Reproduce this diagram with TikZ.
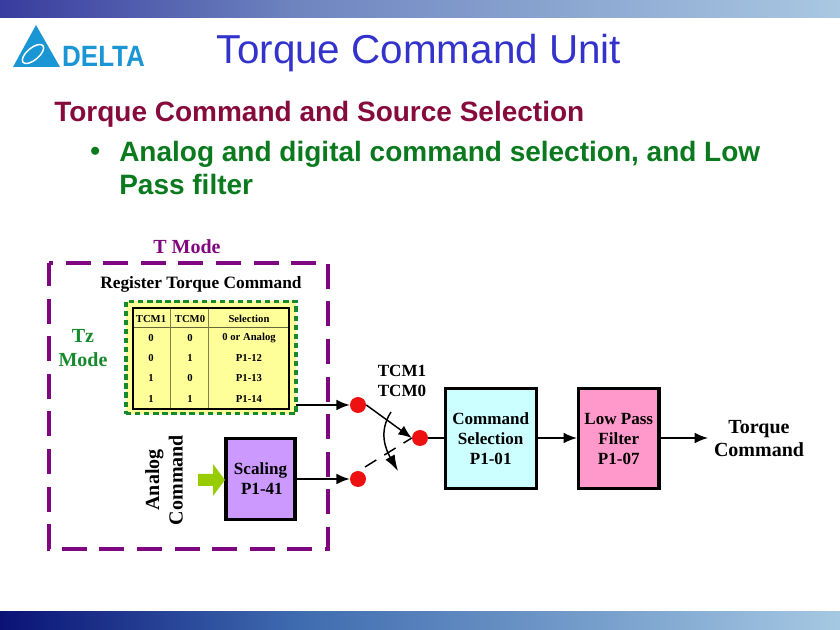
\documentclass[tikz,border=0pt]{standalone}
\usepackage{fontspec}
\setmainfont{Liberation Serif}
\newfontfamily\headfont{Liberation Sans}
\usetikzlibrary{arrows.meta}
\definecolor{barA}{HTML}{383C9E}
\definecolor{barB}{HTML}{6F85C0}
\definecolor{barC}{HTML}{A9C8E2}
\definecolor{footA}{HTML}{0A1276}
\definecolor{footB}{HTML}{3F6CB0}
\definecolor{footC}{HTML}{A5C8E2}
\definecolor{logoblue}{HTML}{1B96D4}
\definecolor{titleblue}{HTML}{3333CC}
\definecolor{headred}{HTML}{860B3C}
\definecolor{headgreen}{HTML}{0B7A1E}
\definecolor{modepurple}{HTML}{800580}
\definecolor{tzgreen}{HTML}{168A2C}
\definecolor{tabyellow}{HTML}{FFFF99}
\definecolor{scalepurple}{HTML}{CC99FF}
\definecolor{cmdcyan}{HTML}{CCFFFF}
\definecolor{lpfpink}{HTML}{FF99CC}
\definecolor{dotred}{HTML}{EE1111}
\definecolor{inarrow}{HTML}{99CC00}
\tikzset{
	headline/.style={font=\headfont\bfseries\fontsize{21}{24}\selectfont,anchor=west,inner sep=0pt},
	blockbox/.style={draw=black,line width=2.3pt,minimum width=#1,align=center,
		font=\bfseries\fontsize{12.8}{15}\selectfont,inner sep=0pt},
	difflabel/.style={font=\bfseries\fontsize{12.8}{15}\selectfont,align=center,inner sep=0pt},
	biglabel/.style={font=\bfseries\fontsize{15}{17.5}\selectfont,align=center,inner sep=0pt},
	celltext/.style={font=\bfseries\fontsize{8}{10}\selectfont,inner sep=0pt},
	sw/.style={circle,fill=dotred,minimum size=12pt,inner sep=0pt},
	flow/.style={line width=1.1pt,-{Latex[length=10pt,width=8pt]}}
}
\begin{document}
\begin{tikzpicture}[x=0.75pt,y=-0.75pt]
\useasboundingbox (0,0) rectangle (840,630);
% bars
\shade[left color=barA,right color=barB] (0,0) rectangle (300,18);
\shade[left color=barB,right color=barC] (300,0) rectangle (840,18);
\shade[left color=footA,right color=footB] (0,612) rectangle (300,630);
\shade[left color=footB,right color=footC] (300,612) rectangle (840,630);
% logo
\fill[logoblue] (13,67) -- (36,25) -- (60,67) -- cycle;
\draw[white,line width=1.1pt,rotate around={40:(33,54)}] (33,54) ellipse (13 and 6);
\node[anchor=west,inner sep=0pt,text=logoblue,font=\headfont\bfseries\fontsize{22}{26}\selectfont,xscale=0.885] (logotext) at (62,56) {DELTA};
% slide text
\node[text=titleblue,font=\headfont\fontsize{30.3}{36}\selectfont,inner sep=0pt] (title) at (419,53) {Torque Command Unit};
\node[headline,text=headred] (head) at (54,114) {Torque Command and Source Selection};
\node[headline,text=headgreen] (bullet) at (90,154) {•};
\node[headline,text=headgreen] (lineA) at (119,154) {Analog and digital command selection, and Low};
\node[headline,text=headgreen] (lineB) at (119,184) {Pass filter};
% modes
\draw[modepurple,line width=2.4pt,dash pattern=on 18.75pt off 9.45pt,dash phase=15.75pt] (49,263) -- (328,263) -- (328,549) -- (49,549) -- cycle;
\node[text=modepurple,biglabel] (tmode) at (187,247) {T Mode};
\node[text=tzgreen,biglabel,font=\bfseries\fontsize{15}{18.5}\selectfont] (tzmode) at (83,348) {Tz\\Mode};
\node[difflabel,font=\bfseries\fontsize{13}{15}\selectfont] (regtitle) at (201,284) {Register Torque Command};
% register table
\node[draw=tzgreen,fill=tabyellow,line width=2.4pt,dash pattern=on 4pt off 2.8pt,minimum width=127.5pt,minimum height=84.5pt,inner sep=0pt] (regouter) at (211,357.5) {};
\draw[black!60!tabyellow,line width=0.7pt] (133,327) -- (289,327);
\draw[black!50!tabyellow,line width=0.7pt] (170,308) -- (170,409) (208,308) -- (208,409);
\draw[black,line width=1.5pt] (133,308) rectangle (289,409);
\foreach \ya/\yb/\yc/\yd/\y in {TCM1/TCM0/Selection/h/319,0/0/0 or Analog/a/338,0/1/P1-12/b/358,1/0/P1-13/c/378,1/1/P1-14/d/399}{
	\node[celltext] (ca\yd) at (151,\y) {\ya};
	\node[celltext] (cb\yd) at (190,\y) {\yb};
	\node[celltext] (cc\yd) at (249,\y) {\yc};
}
% blocks
\node[biglabel,rotate=90] (analog) at (164,480) {Analog\\Command};
\node[blockbox=51.75pt,fill=scalepurple,minimum height=61pt] (scaling) at (260.5,479) {Scaling\\\,P1-41};
\fill[inarrow] (198,474) -- (213,474) -- (213,464) -- (225,480) -- (213,496) -- (213,486) -- (198,486) -- cycle;
\node[blockbox=68pt,fill=cmdcyan,minimum height=75.4pt] (cmd) at (490.7,438.7) {Command\\Selection\\P1-01};
\node[blockbox=60.4pt,fill=lpfpink,minimum height=75.4pt] (lpf) at (618.75,438.7) {Low Pass\\Filter\\P1-07};
\node[difflabel] (tcmlabel) at (402,381) {TCM1\\TCM0};
\node[biglabel] (outlabel) at (759,438.5) {Torque\\Command};
% switch
\node[sw] (swa) at (358,405) {};
\node[sw] (swb) at (358,479) {};
\node[sw] (swc) at (420,438) {};
\coordinate (regout) at (296,405);
\coordinate (outend) at (708,438);
\coordinate (armstart) at (391,412);
\coordinate (armend) at (398,471);
\coordinate (dashstart) at (365,467);
\draw[flow] (regout) -- (swa);
\draw[flow] (scaling.east |- swb) -- (swb);
\draw[flow] (swa.east) -- (swc.west);
\draw[line width=1.1pt,dash pattern=on 10pt off 7pt] (dashstart) -- (swc.west);
\draw[line width=1.1pt,-{Latex[length=12pt,width=8pt]}] (armstart) .. controls (378,432) and (386,450) .. (armend);
\draw[line width=1.1pt] (swc) -- (cmd.west |- swc);
\draw[flow] (cmd.east |- swc) -- (lpf.west |- swc);
\draw[flow] (lpf.east |- swc) -- (outend);
\end{tikzpicture}
\end{document}
